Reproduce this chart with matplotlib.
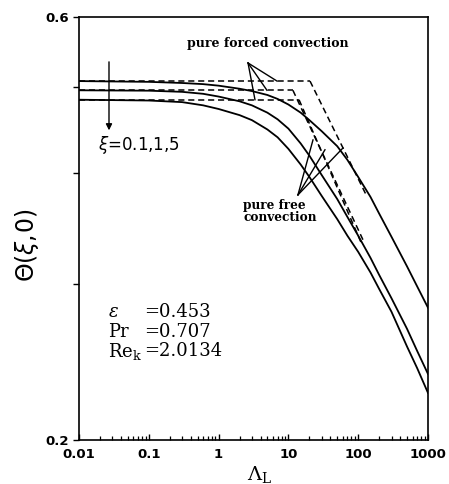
import matplotlib
matplotlib.use('Agg')
import matplotlib.pyplot as plt
from matplotlib.ticker import FixedLocator, FixedFormatter, NullFormatter, LogLocator

# ---- data ----
lam = [0.01, 0.1, 0.3, 0.6, 1, 2, 3, 5, 7, 10, 15, 20, 30, 50, 70, 100, 150, 200, 300, 500, 700, 1000]
theta_xi_01 = [0.508, 0.507, 0.5055, 0.504, 0.502, 0.498, 0.495, 0.490, 0.485, 0.478, 0.468, 0.459,
               0.446, 0.429, 0.414, 0.396, 0.376, 0.360, 0.339, 0.314, 0.298, 0.282]
theta_xi_1 = [0.496, 0.4955, 0.494, 0.4915, 0.488, 0.482, 0.477, 0.468, 0.460, 0.449, 0.432, 0.4185,
              0.398, 0.374, 0.357, 0.340, 0.321, 0.307, 0.289, 0.267, 0.252, 0.2374]
theta_xi_5 = [0.484, 0.483, 0.481, 0.477, 0.4725, 0.465, 0.459, 0.448, 0.439, 0.426, 0.409, 0.396,
              0.377, 0.355, 0.340, 0.326, 0.309, 0.296, 0.279, 0.255, 0.241, 0.226]

forced_theta = [0.508, 0.496, 0.484]          # pure forced convection levels
forced_lam_end = [20.4, 11.6, 14.2]           # where they meet free-convection lines
free_lam_end = [130, 120, 110]
free_theta_end = [0.378, 0.335, 0.334]

forced_label_origin = (2.64, 0.5325)
forced_label_targets_lam = [6.87, 4.93, 3.32]
free_label_origin = (13.7, 0.378)
free_label_targets_lam = [22.5, 33.4, 60.5]
free_label_targets_theta = [0.436, 0.425, 0.427]

x_ticks = [0.01, 0.1, 1, 10, 100, 1000]
x_tick_labels = ['0.01', '0.1', '1', '10', '100', '1000']
y_ticks = [0.2, 0.6]
y_tick_labels = ['0.2', '0.6']
y_minor_ticks = [0.3, 0.4, 0.5]

# ---- figure ----
W, H = 449, 484
fig = plt.figure(figsize=(W / 100, H / 100), dpi=100)
ax = fig.add_axes([79 / W, 1 - 440 / H, (428 - 79) / W, (440 - 17) / H])
ax.set_xscale('log')
ax.set_yscale('log')
ax.set_xlim(0.01, 1000)
ax.set_ylim(0.2, 0.6)

for th in (theta_xi_01, theta_xi_1, theta_xi_5):
    ax.plot(lam, th, color='black', lw=1.3, solid_joinstyle='round')

dash = (0, (4, 2.5))
for i in range(3):
    ax.plot([0.01, forced_lam_end[i]], [forced_theta[i], forced_theta[i]],
            color='black', lw=1.1, linestyle=dash)
    ax.plot([forced_lam_end[i], free_lam_end[i]], [forced_theta[i], free_theta_end[i]],
            color='black', lw=1.1, linestyle=dash)

# annotation leader lines
for lx, ty in zip(forced_label_targets_lam, forced_theta):
    ax.plot([forced_label_origin[0], lx], [forced_label_origin[1], ty], color='black', lw=1.0)
for lx, ty in zip(free_label_targets_lam, free_label_targets_theta):
    ax.plot([free_label_origin[0], lx], [free_label_origin[1], ty], color='black', lw=1.0)

ax.text((268 - 79) / 349, (440 - 44) / 423, 'pure forced convection', transform=ax.transAxes,
        ha='center', va='center', family='DejaVu Serif', fontweight='bold', fontsize=9)
ax.text((243 - 79) / 349, (440 - 199) / 423, 'pure free\nconvection', transform=ax.transAxes,
        ha='left', va='top', family='DejaVu Serif', fontweight='bold', fontsize=8.7,
        linespacing=0.95)

# xi arrow and label
ax.annotate('', xy=(0.0269, 0.447), xytext=(0.0269, 0.534),
            arrowprops=dict(arrowstyle='-|>', color='black', lw=1.0, mutation_scale=9,
                            shrinkA=0, shrinkB=0))
ax.text((98 - 79) / 349, (440 - 145) / 423, r'$\xi$=0.1,1,5', transform=ax.transAxes,
        ha='left', va='center', family='DejaVu Sans', fontsize=12, math_fontfamily='dejavusans')

# parameters
params = [(r'$\varepsilon$', '=0.453', 312), ('Pr', '=0.707', 332), (r'Re$_\mathrm{k}$', '=2.0134', 351)]
for name, val, py in params:
    ax.text((108 - 79) / 349, (440 - py) / 423, name, transform=ax.transAxes, ha='left',
            va='center', family='DejaVu Serif', fontsize=13, math_fontfamily='dejavuserif')
    ax.text((144 - 79) / 349, (440 - py) / 423, val, transform=ax.transAxes, ha='left',
            va='center', family='DejaVu Serif', fontsize=13)

# ticks
ax.xaxis.set_major_locator(FixedLocator(x_ticks))
ax.xaxis.set_major_formatter(FixedFormatter(x_tick_labels))
ax.xaxis.set_minor_locator(LogLocator(base=10, subs=range(2, 10), numticks=20))
ax.xaxis.set_minor_formatter(NullFormatter())
ax.yaxis.set_major_locator(FixedLocator(y_ticks))
ax.yaxis.set_major_formatter(FixedFormatter(y_tick_labels))
ax.yaxis.set_minor_locator(FixedLocator(y_minor_ticks))
ax.yaxis.set_minor_formatter(NullFormatter())

ax.tick_params(axis='x', which='major', direction='in', length=4, width=1.0, pad=6,
               labelsize=9.5)
ax.tick_params(axis='x', which='minor', direction='in', length=3, width=0.9)
ax.tick_params(axis='y', which='major', direction='out', length=4, width=1.0, pad=3,
               labelsize=9.5)
ax.tick_params(axis='y', which='minor', direction='out', length=4, width=1.0)
for lab in ax.get_xticklabels() + ax.get_yticklabels():
    lab.set_fontweight('bold')
    lab.set_family('DejaVu Sans')
for sp in ax.spines.values():
    sp.set_linewidth(1.2)

fig.text(27 / W, 1 - 245 / H, r'$\Theta(\xi,\!0)$', rotation=90, ha='center', va='center',
         fontsize=17, math_fontfamily='dejavusans')
fig.text(260 / W, 1 - 464 / H, r'$\Lambda_\mathrm{L}$', ha='center', va='top',
         fontsize=14, math_fontfamily='dejavuserif')

fig.savefig('out.png', dpi=100)
